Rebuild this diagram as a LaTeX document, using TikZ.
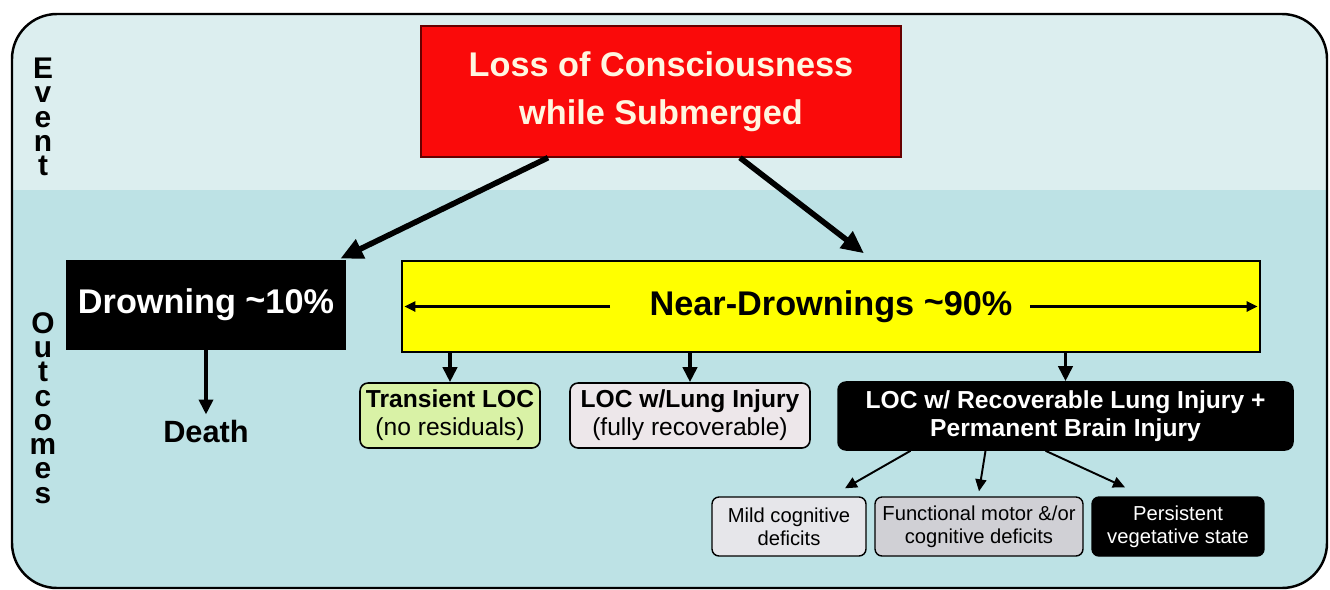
\documentclass[tikz,border=0pt]{standalone}
\usepackage{fontspec}
\setmainfont{Liberation Sans}
\usetikzlibrary{arrows.meta,positioning}

\definecolor{eventbg}{HTML}{DCEEEF}
\definecolor{outcomebg}{HTML}{BDE2E5}
\definecolor{locred}{HTML}{FA0A0A}
\definecolor{loctext}{HTML}{FFF6E0}
\definecolor{nearyellow}{HTML}{FFFF00}
\definecolor{transgreen}{HTML}{D9F2A6}
\definecolor{lunggray}{HTML}{EDE7EA}
\definecolor{mildgray}{HTML}{E6E6EA}
\definecolor{funcgray}{HTML}{D0D0D5}

\begin{document}
\begin{tikzpicture}[x=0.02cm, y=-0.02cm,
    bigarrow/.style={-{Triangle[length=4.5mm,width=4mm]}, line width=3.2pt},
    midarrow/.style={-{Triangle[length=3mm,width=2.8mm]}, line width=2.2pt},
    thinarrow/.style={-{Triangle[length=2.4mm,width=2.2mm]}, line width=1.1pt},
    sidelabel/.style={align=center, font=\bfseries\fontsize{17}{13.8}\selectfont},
    outcomebox/.style={draw=black, line width=0.9pt, rounded corners=0.16cm, inner sep=0pt, align=center, font=\fontsize{14}{16}\selectfont},
    lowbox/.style={draw=black, line width=0.8pt, rounded corners=0.14cm, inner sep=0pt, align=center, font=\fontsize{11.5}{13}\selectfont, minimum height=1.18cm}]
    \useasboundingbox (0,0) rectangle (1330,589);

    % --- Achtergrond ---
    \begin{scope}
        \clip[rounded corners=0.9cm] (12,14) rectangle (1327,588);
        \fill[eventbg] (12,14) rectangle (1327,190);
        \fill[outcomebg] (12,190) rectangle (1327,588);
    \end{scope}
    \draw[line width=1.4pt, rounded corners=0.9cm] (12,14) rectangle (1327,588);

    % Zijlabels
    \node[sidelabel] (event) at (43,117) {E\\v\\e\\n\\t};
    \node[sidelabel] (outc) at (43,408) {O\\u\\t\\c\\o\\m\\e\\s};

    % --- Gebeurtenis ---
    \node[draw=red!40!black, line width=0.8pt, fill=locred, text=loctext, minimum width=9.6cm, minimum height=2.62cm, align=center, font=\bfseries\fontsize{19.5}{27}\selectfont] (loc) at (661,91.5) {Loss of Consciousness\\while Submerged};

    % --- Uitkomsten ---
    \node[fill=black, text=white, minimum width=5.6cm, minimum height=1.8cm, font=\bfseries\fontsize{19.5}{22}\selectfont] (drown) at (206,305) {Drowning \raisebox{0.1ex}{\textasciitilde}10\%};
    \node[draw=black, line width=0.8pt, fill=nearyellow, minimum width=17.16cm, minimum height=1.82cm, font=\bfseries\fontsize{19.5}{22}\selectfont] (near) at (831,306.5) {Near-Drownings \raisebox{0.1ex}{\textasciitilde}90\%};
    \node[font=\bfseries\fontsize{17.5}{20}\selectfont] (death) at (206,432) {Death};

    \draw[bigarrow] ([xshift=-2.26cm]loc.south) -- ([xshift=-0.12cm,yshift=0.02cm]drown.north east);
    \draw[bigarrow] ([xshift=1.58cm]loc.south) -- ([xshift=0.66cm,yshift=0.14cm]near.north);
    \draw[midarrow] (drown.south) -- (death.north);

    % Pijlen binnen de gele balk
    \draw[-{Triangle[length=2.2mm,width=2mm]}, line width=1.6pt] ([xshift=-4.42cm]near.center) -- ([xshift=0.06cm]near.west);
    \draw[-{Triangle[length=2.2mm,width=2mm]}, line width=1.6pt] ([xshift=3.98cm]near.center) -- ([xshift=-0.06cm]near.east);

    % Tweede rij
    \node[outcomebox, fill=transgreen, minimum width=3.6cm, minimum height=1.3cm] (trans) at (450,415.5) {\textbf{Transient LOC}\\(no residuals)};
    \node[outcomebox, fill=lunggray, minimum width=4.8cm, minimum height=1.3cm] (lung) at (690,415.5) {\textbf{LOC w/Lung Injury}\\(fully recoverable)};
    \node[outcomebox, fill=black, text=white, minimum width=9.1cm, minimum height=1.36cm] (brain) at (1065.5,416) {\textbf{LOC w/ Recoverable Lung Injury +}\\\textbf{Permanent Brain Injury}};

    \foreach \n in {trans, lung, brain} {
        \draw[midarrow] (\n.north |- near.south) -- (\n.north);
    }

    % Derde rij
    \node[lowbox, fill=mildgray, minimum width=3.08cm] (mild) at (789,526.5) {Mild cognitive\\deficits};
    \node[lowbox, fill=funcgray, minimum width=4.16cm] (func) at (979,526.5) {Functional motor \&/or\\cognitive deficits};
    \node[lowbox, fill=black, text=white, minimum width=3.44cm] (pvs) at (1178,526.5) {Persistent\\vegetative state};

    \draw[thinarrow] ([xshift=-3.1cm]brain.south) -- ([xshift=1.12cm,yshift=0.16cm]mild.north);
    \draw[thinarrow] ([xshift=-1.6cm]brain.south) -- ([yshift=0.1cm]func.north);
    \draw[thinarrow] ([xshift=-0.4cm]brain.south) -- ([xshift=-1.06cm,yshift=0.18cm]pvs.north);
\end{tikzpicture}
\end{document}
